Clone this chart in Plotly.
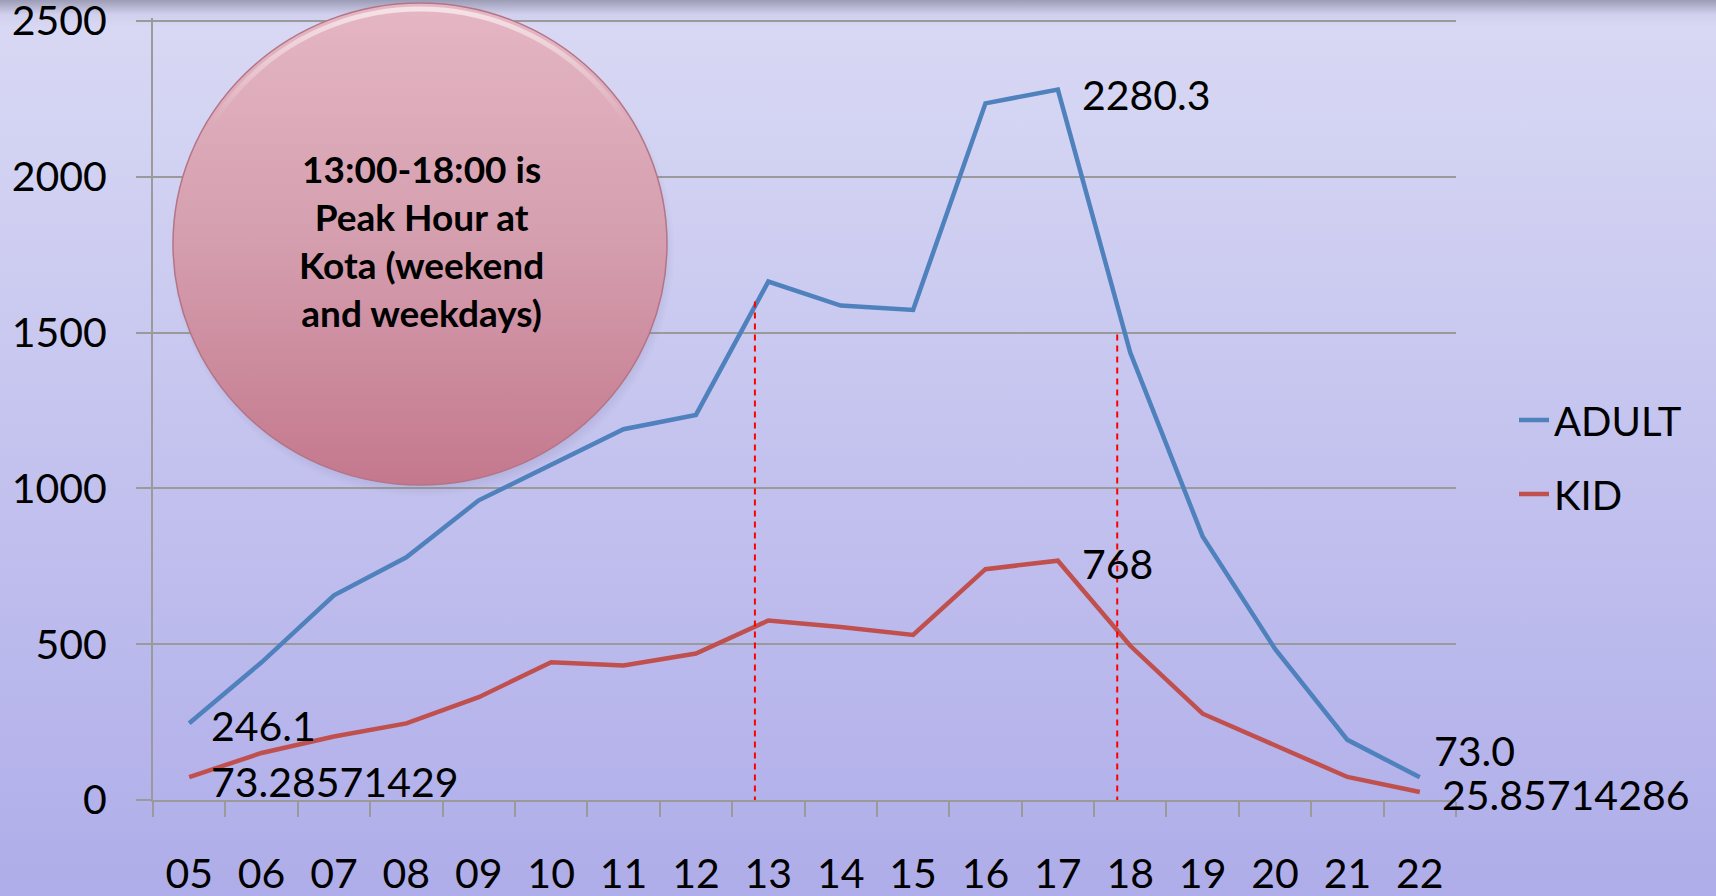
import base64
import plotly.graph_objects as go

hours = ["05", "06", "07", "08", "09", "10", "11", "12", "13", "14", "15", "16", "17", "18", "19", "20", "21", "22"]
adult = [246.1, 442, 657, 779, 962, 1074, 1190, 1236, 1664, 1587, 1573, 2236, 2280.3, 1436, 846, 485, 193, 73.0]
kid = [73.28571429, 151, 204, 246, 330, 442, 432, 470, 576, 555, 530, 741, 768, 495, 277, 176, 74, 25.85714286]
y_ticks = [0, 500, 1000, 1500, 2000, 2500]
peak_marks = [(7.815, 1600), (12.82, 1500)]
note_text = "13:00-18:00 is<br>Peak Hour at<br>Kota (weekend<br>and weekdays)"

W, H = 1716, 896
L, R, T, B = 153, 260, 18, 96
PW, PH = W - L - R, H - T - B

def px_x(v):
    return (v - L) / PW

def px_y(v):
    return (H - B - v) / PH

bg_svg = f'''<svg xmlns="http://www.w3.org/2000/svg" width="{W}" height="{H}" viewBox="0 0 {W} {H}" preserveAspectRatio="none">
<defs><linearGradient id="g" x1="0" y1="0" x2="0" y2="1">
<stop offset="0" stop-color="#9c9cb6"/>
<stop offset="0.016" stop-color="#d0d0ee"/>
<stop offset="0.03" stop-color="#d8d8f4"/>
<stop offset="1" stop-color="#afade9"/>
</linearGradient></defs>
<rect x="0" y="0" width="{W}" height="{H}" fill="url(#g)"/>
</svg>'''

circ_svg = '''<svg xmlns="http://www.w3.org/2000/svg" width="510" height="500" viewBox="0 0 510 500" preserveAspectRatio="none">
<defs>
<linearGradient id="c" x1="0" y1="0" x2="0" y2="1">
<stop offset="0" stop-color="#e5b6c3"/>
<stop offset="0.5" stop-color="#d49eae"/>
<stop offset="1" stop-color="#c4788d"/>
</linearGradient>
<radialGradient id="s" cx="0.5" cy="0.5" r="0.5">
<stop offset="0.9" stop-color="#6a6a90" stop-opacity="0.35"/>
<stop offset="1" stop-color="#6a6a90" stop-opacity="0"/>
</radialGradient>
<linearGradient id="h" x1="0" y1="0" x2="0" y2="1">
<stop offset="0" stop-color="#ffffff" stop-opacity="0.6"/>
<stop offset="0.25" stop-color="#ffffff" stop-opacity="0"/>
</linearGradient>
</defs>
<ellipse cx="252" cy="251" rx="252" ry="246" fill="url(#s)"/>
<ellipse cx="249" cy="244" rx="247" ry="241" fill="url(#c)" stroke="#b47486" stroke-width="1.5"/>
<ellipse cx="249" cy="244" rx="241" ry="235" fill="none" stroke="url(#h)" stroke-width="5"/>
</svg>'''

def uri(svg):
    return "data:image/svg+xml;base64," + base64.b64encode(svg.encode()).decode()

fig = go.Figure()
fig.add_trace(go.Scatter(x=hours, y=adult, mode="lines", name="ADULT",
                         line=dict(color="#4f81bd", width=4.5), legendgroup="a"))
fig.add_trace(go.Scatter(x=hours, y=kid, mode="lines", name="KID",
                         line=dict(color="#c0504d", width=4.5), legendgroup="k"))

for xv, top in peak_marks:
    fig.add_shape(type="line", xref="x", yref="y", x0=xv, x1=xv, y0=-8, y1=top,
                  line=dict(color="#ff0000", width=2, dash="6px,5px"))

font_lbl = dict(family="Lato", size=41, color="#000000")
labels = [
    (0, adult[0], "246.1", 20, -2),
    (0, kid[0], "73.28571429", 20, -4),
    (12, adult[12], "2280.3", 22, -5),
    (12, kid[12], "768", 22, -3),
    (17, adult[17], "73.0", 12, 27),
    (17, kid[17], "25.85714286", 20, -3),
]
for xi, yv, txt, xs, ys in labels:
    fig.add_annotation(x=xi, y=yv, text=txt, showarrow=False, xanchor="left", yanchor="middle",
                       xshift=xs, yshift=ys, font=font_lbl)

fig.add_layout_image(source=uri(bg_svg), xref="paper", yref="paper",
                     x=px_x(0), y=px_y(0), sizex=W / PW, sizey=H / PH,
                     xanchor="left", yanchor="top", sizing="stretch", layer="below")
fig.add_layout_image(source=uri(circ_svg), xref="paper", yref="paper",
                     x=px_x(171), y=px_y(0), sizex=510 / PW, sizey=500 / PH,
                     xanchor="left", yanchor="top", sizing="stretch", layer="above", opacity=1)

fig.add_annotation(xref="paper", yref="paper", x=px_x(421), y=px_y(240), text=note_text,
                   showarrow=False, xanchor="center", yanchor="middle", align="center",
                   font=dict(family="Lato", size=37, color="#000000", weight="bold"))

fig.update_layout(
    width=W, height=H,
    margin=dict(l=L, r=R, t=T, b=B, autoexpand=False),
    paper_bgcolor="#c4c3ef", plot_bgcolor="rgba(0,0,0,0)",
    font=dict(family="Lato", size=41, color="#000000"),
    showlegend=True,
    legend=dict(x=px_x(1514), y=px_y(457), xanchor="left", yanchor="middle",
                bgcolor="rgba(0,0,0,0)", font=dict(family="Lato", size=40, color="#000000"),
                tracegroupgap=19, traceorder="grouped"),
    xaxis=dict(type="category", categoryorder="array", categoryarray=hours, automargin=False,
               range=[-0.5, 17.5], showgrid=False, showline=True, linecolor="#9a9a9a", linewidth=2,
               ticks="outside", tickson="boundaries", ticklen=15, tickcolor="#9a9a9a", tickwidth=2,
               ticklabelstandoff=37, tickfont=dict(family="Lato", size=41)),
    yaxis=dict(range=[0, 2510], tickvals=y_ticks, automargin=False, ticklabeloverflow="allow",
               showgrid=True, gridcolor="#9a9a9a", gridwidth=2,
               zeroline=False, showline=True, linecolor="#9a9a9a", linewidth=2,
               ticks="outside", ticklen=15, tickcolor="#9a9a9a", tickwidth=2,
               ticklabelstandoff=21, tickfont=dict(family="Lato", size=41)),
)

fig.write_html("out.html", config={"displayModeBar": False},
               post_script="document.body.style.margin='0';document.body.style.overflow='hidden';")
